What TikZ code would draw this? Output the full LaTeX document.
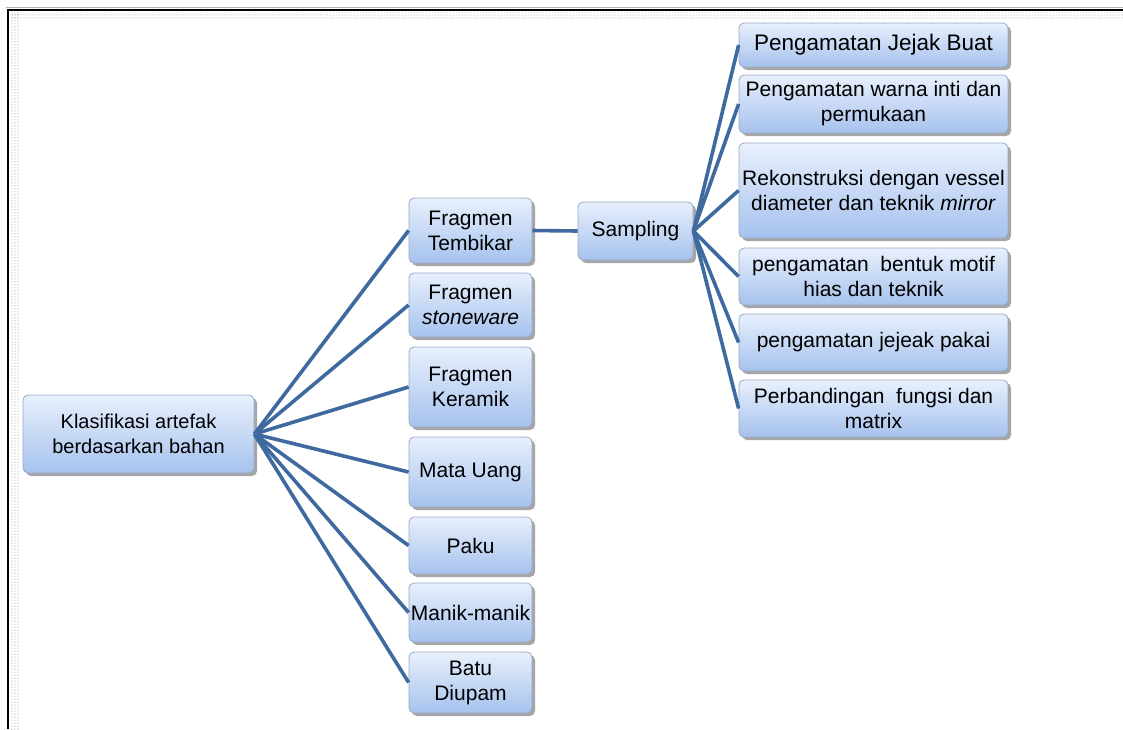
\documentclass[tikz,border=0pt]{standalone}
\usepackage{fontspec}
\setmainfont{Liberation Sans}
\usetikzlibrary{shadows, patterns}
\definecolor{boxtop}{RGB}{232,240,252}
\definecolor{boxbot}{RGB}{166,194,238}
\definecolor{boxline}{RGB}{150,170,200}
\definecolor{linkblue}{RGB}{62,106,160}
\tikzstyle{rect} = [rectangle, rounded corners=5pt, draw=boxline, line width=0.8pt, top color=boxtop, bottom color=boxbot, align=center, inner sep=2pt, font=\fontsize{21}{25}\selectfont, drop shadow={shadow xshift=3pt, shadow yshift=-3pt, fill=black, opacity=.35}]
\tikzstyle{link} = [draw=linkblue, line width=3.6pt]

\begin{document}
\begin{tikzpicture}[x=1pt, y=-1pt]
        \useasboundingbox (0,0) rectangle (1123,729);
        % frame
        \fill[pattern=dots, pattern color=gray] (10,12) rectangle (1123,19);
        \fill[pattern=dots, pattern color=gray] (10,12) rectangle (19,729);
        \draw[gray!60, line width=1pt] (6,7) -- (1123,7);
        \draw[black, line width=2.5pt] (7,10) -- (1123,10);
        \draw[black, line width=2.5pt] (8,9) -- (8,729);

        % root
        \node[rect, font=\fontsize{20}{25}\selectfont, minimum width=231pt, minimum height=78pt] (kl) at (138.5,434) {Klasifikasi artefak\\berdasarkan bahan};

        % materials
        \node[rect, minimum width=123pt, minimum height=65pt] (m1) at (470.5,230.5) {Fragmen\\Tembikar};
        \node[rect, minimum width=123pt, minimum height=64pt] (m2) at (470.5,305) {Fragmen\\\textit{stoneware}};
        \node[rect, minimum width=123pt, minimum height=80pt] (m3) at (470.5,387) {Fragmen\\Keramik};
        \node[rect, minimum width=123pt, minimum height=70pt] (m4) at (470.5,472) {Mata Uang};
        \node[rect, minimum width=123pt, minimum height=57pt] (m5) at (470.5,545.5) {Paku};
        \node[rect, minimum width=123pt, minimum height=59pt, inner sep=0pt] (m6) at (470.5,612.5) {Manik-manik};
        \node[rect, minimum width=123pt, minimum height=61pt] (m7) at (470.5,682.5) {Batu\\Diupam};

        \node[rect, minimum width=115pt, minimum height=58pt] (samp) at (635.5,231) {Sampling};

        % observations
        \node[rect, font=\fontsize{22.5}{25}\selectfont, minimum width=269pt, minimum height=44pt] (r1) at (873.5,45) {Pengamatan Jejak Buat};
        \node[rect, minimum width=269pt, minimum height=58pt] (r2) at (873.5,104) {Pengamatan warna inti dan\\permukaan};
        \node[rect, minimum width=269pt, minimum height=95pt, inner sep=0pt] (r3) at (873.5,190.5) {Rekonstruksi dengan vessel\\diameter dan teknik \textit{mirror}};
        \node[rect, minimum width=269pt, minimum height=57pt] (r4) at (873.5,276.5) {pengamatan\ \ bentuk motif\\hias dan teknik};
        \node[rect, minimum width=269pt, minimum height=57pt] (r5) at (873.5,342.5) {pengamatan jejeak pakai};
        \node[rect, minimum width=269pt, minimum height=57pt] (r6) at (873.5,408.5) {Perbandingan\ \ fungsi dan\\matrix};

        \foreach \j in {1,...,7}
        {\draw[link] (kl.east) -- (m\j.west);}
        \draw[link] (m1.east) -- (samp.west);
        \foreach \j in {1,...,6}
        {\draw[link] (samp.east) -- (r\j.west);}
\end{tikzpicture}
\end{document}
